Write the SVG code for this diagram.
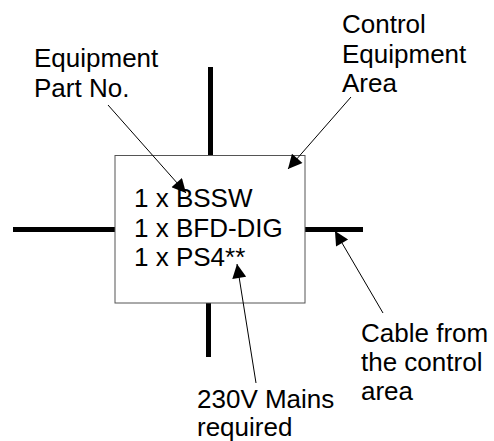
<svg xmlns="http://www.w3.org/2000/svg" width="494" height="441" viewBox="0 0 494 441">
<style>
text{font-family:"Liberation Sans",Arial,sans-serif;font-size:26px;fill:#000}
.cable{stroke:#000;stroke-width:5;fill:none}
.ptr{stroke:#000;stroke-width:1;fill:none;marker-end:url(#ah)}
</style>
<defs>
<marker id="ah" viewBox="0 0 10 10" refX="10" refY="5" markerWidth="17" markerHeight="14" markerUnits="userSpaceOnUse" orient="auto">
<path d="M0,0 L10,5 L0,10 z" fill="#000"/>
</marker>
</defs>
<rect width="494" height="441" fill="#fff"/>
<g id="cables">
<line class="cable" x1="210.5" y1="67" x2="210.5" y2="155"/>
<line class="cable" x1="208.5" y1="303" x2="208.5" y2="357"/>
<line class="cable" x1="13" y1="229.5" x2="115" y2="229.5"/>
<line class="cable" x1="305" y1="229.5" x2="363" y2="229.5"/>
</g>
<g id="equipment-box">
<rect x="115" y="155.5" width="190" height="147.5" fill="#fff" stroke="#555" stroke-width="1"/>
<text x="134" y="207">1 x BSSW</text>
<text x="134" y="237">1 x BFD-DIG</text>
<text x="134" y="266">1 x PS4**</text>
</g>
<g id="label-part">
<text x="34" y="66.5">Equipment</text>
<text x="34" y="96.5">Part No.</text>
</g>
<g id="label-area">
<text x="342" y="33">Control</text>
<text x="342" y="62.5">Equipment</text>
<text x="342" y="92">Area</text>
</g>
<g id="label-cable">
<text x="361" y="342">Cable from</text>
<text x="361" y="371">the control</text>
<text x="361" y="400">area</text>
</g>
<g id="label-mains">
<text x="197" y="408">230V Mains</text>
<text x="197" y="435.5">required</text>
</g>
<g id="connectors">
<line class="ptr" x1="108" y1="105" x2="186" y2="193"/>
<line class="ptr" x1="351" y1="97" x2="288" y2="169"/>
<line class="ptr" x1="383" y1="313" x2="335" y2="231"/>
<line class="ptr" x1="256" y1="383" x2="237" y2="264"/>
</g>
</svg>
